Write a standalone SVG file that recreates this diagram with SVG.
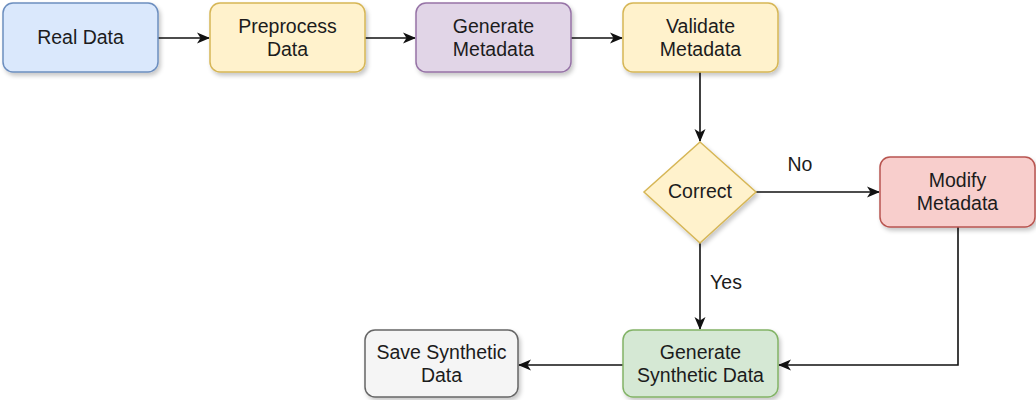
<svg xmlns="http://www.w3.org/2000/svg" width="1036" height="400" viewBox="0 0 1036 400">
<defs>
<filter id="sh" x="-10%" y="-10%" width="130%" height="140%">
<feDropShadow dx="2" dy="3" stdDeviation="2" flood-color="#000" flood-opacity="0.22"/>
</filter>
<marker id="ah" viewBox="0 0 13 13" refX="12" refY="6.5" markerWidth="13" markerHeight="13" markerUnits="userSpaceOnUse" orient="auto">
<path d="M0,1 L13,6.5 L0,12 L3.5,6.5 Z" fill="#111"/>
</marker>
</defs>
<style>
.n{stroke-width:1.5;filter:url(#sh)}
.t{font-family:"Liberation Sans",Arial,sans-serif;font-size:19.5px;fill:#1c1c1c;text-anchor:middle}
.c{fill:none;stroke:#111;stroke-width:1.6;marker-end:url(#ah)}
.blue{fill:#dae8fc;stroke:#6c8ebf}
.yel{fill:#fff2cc;stroke:#d6b656}
.pur{fill:#e1d5e7;stroke:#9673a6}
.red{fill:#f8cecc;stroke:#b85450}
.grn{fill:#d5e8d4;stroke:#82b366}
.gry{fill:#f5f5f5;stroke:#666666}
</style>
<rect width="1036" height="400" fill="#fff"/>
<g id="connectors">
<path class="c" d="M158,38 H209"/>
<path class="c" d="M365,38 H415"/>
<path class="c" d="M571,38 H622"/>
<path class="c" d="M700,72 V141"/>
<path class="c" d="M756,192 H879"/>
<path class="c" d="M700,243 V329"/>
<path class="c" d="M958,227 V365 H779"/>
<path class="c" d="M623,365 H519"/>
<text class="t" x="800" y="171">No</text>
<text class="t" x="726" y="289">Yes</text>
</g>
<g id="real-data"><rect class="n blue" x="3" y="3" width="155" height="69" rx="10"/><text class="t" x="80.5" y="44">Real Data</text></g>
<g id="preprocess"><rect class="n yel" x="210" y="3" width="155" height="69" rx="10"/><text class="t" x="287.5" y="33">Preprocess</text><text class="t" x="287.5" y="56">Data</text></g>
<g id="generate-metadata"><rect class="n pur" x="416" y="3" width="155" height="69" rx="10"/><text class="t" x="493.5" y="33">Generate</text><text class="t" x="493.5" y="56">Metadata</text></g>
<g id="validate-metadata"><rect class="n yel" x="623" y="3" width="155" height="69" rx="10"/><text class="t" x="700.5" y="33">Validate</text><text class="t" x="700.5" y="56">Metadata</text></g>
<g id="correct"><polygon class="n yel" points="700,142 756,192 700,243 644,192"/><text class="t" x="700" y="198">Correct</text></g>
<g id="modify-metadata"><rect class="n red" x="880" y="157" width="155" height="70" rx="10"/><text class="t" x="957.5" y="187">Modify</text><text class="t" x="957.5" y="210">Metadata</text></g>
<g id="generate-synthetic"><rect class="n grn" x="623" y="330" width="155" height="67" rx="10"/><text class="t" x="700.5" y="359">Generate</text><text class="t" x="700.5" y="382">Synthetic Data</text></g>
<g id="save-synthetic"><rect class="n gry" x="365" y="330" width="153" height="67" rx="10"/><text class="t" x="441.5" y="359">Save Synthetic</text><text class="t" x="441.5" y="382">Data</text></g>
</svg>
